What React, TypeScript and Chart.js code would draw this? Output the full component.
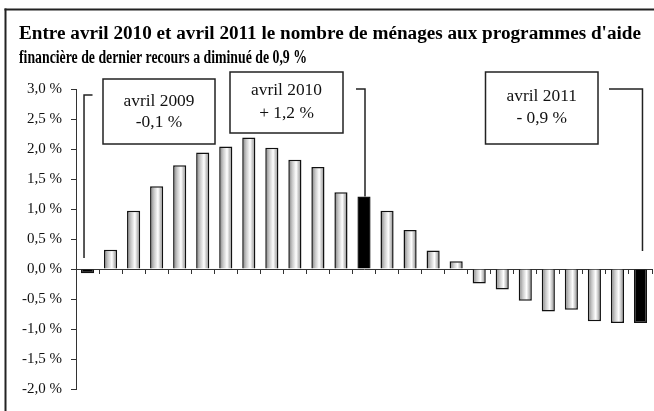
import React, { useEffect, useRef } from 'react';
import { Chart, registerables } from 'chart.js';

Chart.register(...registerables);

const MONTHS = [
  'avril 2009', 'mai 2009', 'juin 2009', 'juillet 2009', 'août 2009', 'septembre 2009',
  'octobre 2009', 'novembre 2009', 'décembre 2009', 'janvier 2010', 'février 2010', 'mars 2010',
  'avril 2010', 'mai 2010', 'juin 2010', 'juillet 2010', 'août 2010', 'septembre 2010',
  'octobre 2010', 'novembre 2010', 'décembre 2010', 'janvier 2011', 'février 2011', 'mars 2011',
  'avril 2011',
];

const VALUES = [
  -0.07, 0.32, 0.97, 1.38, 1.73, 1.94, 2.04, 2.19, 2.02, 1.82, 1.7, 1.28,
  1.21, 0.97, 0.65, 0.31, 0.13, -0.24, -0.34, -0.53, -0.71, -0.68, -0.87, -0.9,
  -0.9,
];

const HIGHLIGHT = [0, 12, 24];

const Y_MIN = -2;
const Y_MAX = 3;
const Y_STEP = 0.5;

const TITLE_LINES = [
  "Entre avril 2010 et avril 2011 le nombre de ménages aux programmes d'aide",
  'financière de dernier recours a diminué de 0,9 %',
];

const CALLOUT_TEXTS = [
  ['avril 2009', '-0,1 %'],
  ['avril 2010', '+ 1,2 %'],
  ['avril 2011', '- 0,9 %'],
];

const SERIF = '"Liberation Serif", "Times New Roman", serif';
const BAR_PCT = 0.57;

function drawStretched(ctx: CanvasRenderingContext2D, text: string, x: number, y: number, sx: number) {
  ctx.save();
  ctx.translate(x, y);
  ctx.scale(sx, 1);
  ctx.fillText(text, 0, 0);
  ctx.restore();
}

const decorPlugin = {
  id: 'decor',
  beforeDraw(chart: any) {
    const ctx = chart.ctx as CanvasRenderingContext2D;
    ctx.save();
    ctx.fillStyle = '#222';
    ctx.fillRect(4.5, 8.5, 700, 2);
    ctx.fillRect(4.5, 8.5, 2, 500);
    // title
    ctx.font = `bold 18px ${SERIF}`;
    ctx.textAlign = 'left';
    ctx.textBaseline = 'alphabetic';
    ctx.fillStyle = '#000';
    const sx1 = 622 / ctx.measureText(TITLE_LINES[0]).width;
    const sx2 = 288 / ctx.measureText(TITLE_LINES[1]).width;
    drawStretched(ctx, TITLE_LINES[0], 19, 39, sx1);
    drawStretched(ctx, TITLE_LINES[1], 19, 63, sx2);
    ctx.restore();
  },
  afterDraw(chart: any) {
    const ctx = chart.ctx as CanvasRenderingContext2D;
    const xs = chart.scales.x;
    const ys = chart.scales.y;
    ctx.save();
    ctx.strokeStyle = '#222';
    ctx.lineWidth = 1.5;

    // connector lines
    const x1 = xs.getPixelForValue(HIGHLIGHT[0]) - 3.5;
    const t1 = ys.getPixelForValue(2.9);
    ctx.beginPath();
    ctx.moveTo(x1 + 8.5, t1);
    ctx.lineTo(x1, t1);
    ctx.lineTo(x1, ys.getPixelForValue(0) - 11);
    ctx.stroke();

    const x2 = xs.getPixelForValue(HIGHLIGHT[1]) + 1;
    const t2 = ys.getPixelForValue(Y_MAX);
    ctx.beginPath();
    ctx.moveTo(x2 - 9, t2);
    ctx.lineTo(x2, t2);
    ctx.lineTo(x2, ys.getPixelForValue(VALUES[HIGHLIGHT[1]]));
    ctx.stroke();

    const x3 = xs.getPixelForValue(HIGHLIGHT[2]) + 2;
    ctx.beginPath();
    ctx.moveTo(x3 - 33.5, t2);
    ctx.lineTo(x3, t2);
    ctx.lineTo(x3, ys.getPixelForValue(0) - 18);
    ctx.stroke();

    // boxes
    const boxes = [
      { l: 103, t: 79, r: 215, b: 144, ty: [101.7, 123] },
      { l: 230, t: 72, r: 343, b: 133, ty: [90.7, 114] },
      { l: 485.5, t: 72, r: 598, b: 144, ty: [96.7, 118.3] },
    ];
    ctx.font = `16px ${SERIF}`;
    const sx = 71 / ctx.measureText('avril 2009').width;
    boxes.forEach((bx, i) => {
      ctx.fillStyle = '#fff';
      ctx.fillRect(bx.l, bx.t, bx.r - bx.l, bx.b - bx.t);
      ctx.strokeRect(bx.l, bx.t, bx.r - bx.l, bx.b - bx.t);
      ctx.fillStyle = '#111';
      ctx.textAlign = 'center';
      ctx.textBaseline = 'middle';
      const cx = (bx.l + bx.r) / 2;
      CALLOUT_TEXTS[i].forEach((line, k) => drawStretched(ctx, line, cx, bx.ty[k], sx));
    });
    ctx.restore();
  },
};

export default function App() {
  const ref = useRef<HTMLCanvasElement>(null);

  useEffect(() => {
    if (!ref.current) return;
    const chart = new Chart(ref.current, {
      type: 'bar',
      data: {
        labels: MONTHS,
        datasets: [
          {
            data: VALUES,
            barPercentage: BAR_PCT,
            categoryPercentage: 1,
            borderColor: '#111',
            borderWidth: 1.5,
            backgroundColor: (c: any) => {
              if (HIGHLIGHT.includes(c.dataIndex)) return '#000';
              const xs = c.chart.scales.x;
              if (!xs || !c.chart.chartArea) return '#ccc';
              const cx = xs.getPixelForValue(c.dataIndex);
              const hw = (xs.width / VALUES.length) * BAR_PCT / 2;
              const g = c.chart.ctx.createLinearGradient(cx - hw, 0, cx + hw, 0);
              g.addColorStop(0, '#7c7c7c');
              g.addColorStop(0.3, '#c8c8c8');
              g.addColorStop(0.6, '#ffffff');
              g.addColorStop(1, '#808080');
              return g;
            },
          },
        ],
      },
      options: {
        animation: false,
        responsive: false,
        events: [],
        layout: { padding: { top: 89, right: 2, bottom: 22, left: 0 } },
        plugins: {
          legend: { display: false },
          title: { display: false },
          tooltip: { enabled: false },
        },
        scales: {
          x: {
            position: { y: 0 } as any,
            grid: { drawOnChartArea: false, drawTicks: true, tickLength: 4, color: '#333', offset: true },
            border: { display: true, color: '#333', width: 1 },
            ticks: { display: false },
          },
          y: {
            min: Y_MIN,
            max: Y_MAX,
            afterFit: (s: any) => { s.width = 76; },
            ticks: {
              stepSize: Y_STEP,
              padding: 9,
              color: '#111',
              font: { family: SERIF, size: 15 },
              callback: (v: any) => Number(v).toFixed(1).replace('.', ',') + ' %',
            },
            grid: { drawOnChartArea: false, drawTicks: true, tickLength: 5, color: '#333' },
            border: { display: true, color: '#333', width: 1 },
          },
        },
      },
      plugins: [decorPlugin],
    });
    return () => chart.destroy();
  }, []);

  return (
    <div style={{ position: 'fixed', left: 0, top: 0, width: 654, height: 411, background: '#fff' }}>
      <canvas ref={ref} width={654} height={411} style={{ width: 654, height: 411, display: 'block' }} />
    </div>
  );
}
